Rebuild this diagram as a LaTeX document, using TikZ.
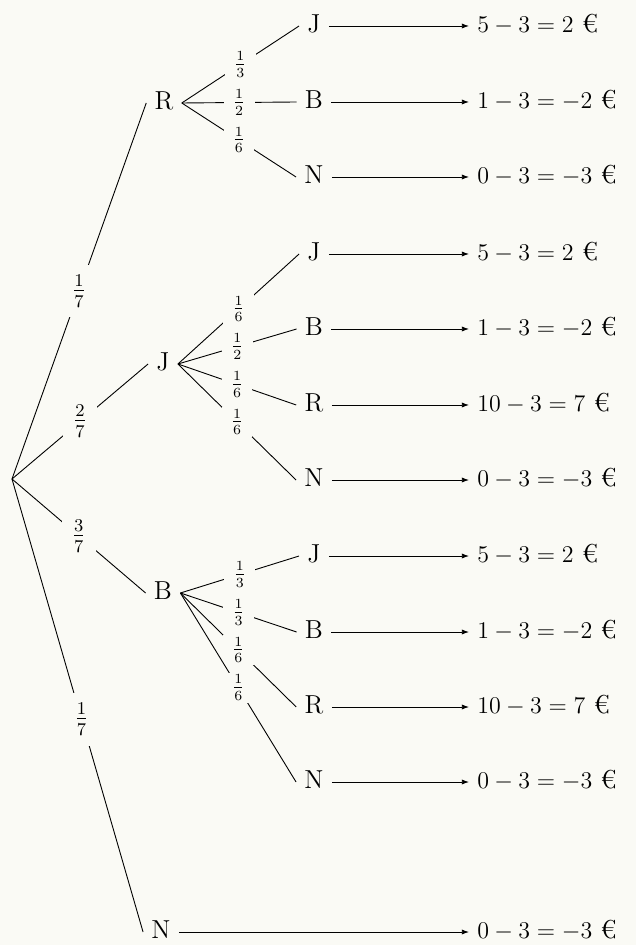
\documentclass[tikz,border=0pt]{standalone}
\usetikzlibrary{arrows.meta}
\definecolor{bg}{RGB}{250,250,245}
\begin{document}
\begin{tikzpicture}[x=0.5pt,y=-0.5pt,
  lt/.style={font=\fontsize{13}{16}\selectfont, text height=1.5ex, text depth=0pt, inner sep=4pt},
  res/.style={lt, anchor=west},
  labone/.style={fill=bg, font=\fontsize{13.5}{16}\selectfont, inner sep=5pt},
  labtwo/.style={fill=bg, font=\fontsize{10.5}{12.5}\selectfont, inner xsep=4.5pt, inner ysep=1.2pt},
  edge/.style={line width=0.45pt},
  arr/.style={line width=0.45pt, -{Latex[length=3.6pt,width=2.6pt]}}]
\fill[bg] (0,0) rectangle (636,945);
\useasboundingbox (0,0) rectangle (636,945);
\coordinate (O) at (12,479);
% level 1
\node[lt] (R1) at (164,103) {R};
\node[lt] (J1) at (163,364) {J};
\node[lt] (B1) at (163,593) {B};
\node[lt] (N1) at (161,932) {N};
% level 2
\node[lt] (RJ) at (314,26) {J};
\node[lt] (RB) at (314,102) {B};
\node[lt] (RN) at (314,177) {N};
\node[lt] (JJ) at (314,254) {J};
\node[lt] (JB) at (314,329) {B};
\node[lt] (JR) at (314,405) {R};
\node[lt] (JN) at (314,480) {N};
\node[lt] (BJ) at (314,556) {J};
\node[lt] (BB) at (314,632) {B};
\node[lt] (BR) at (314,707) {R};
\node[lt] (BN) at (314,782) {N};
% results
\node[res] (rRJ) at (469,26) {$5-3=2$ €};
\node[res] (rRB) at (469,102) {$1-3=-2$ €};
\node[res] (rRN) at (469,177) {$0-3=-3$ €};
\node[res] (rJJ) at (469,254) {$5-3=2$ €};
\node[res] (rJB) at (469,329) {$1-3=-2$ €};
\node[res] (rJR) at (469,405) {$10-3=7$ €};
\node[res] (rJN) at (469,480) {$0-3=-3$ €};
\node[res] (rBJ) at (469,556) {$5-3=2$ €};
\node[res] (rBB) at (469,632) {$1-3=-2$ €};
\node[res] (rBR) at (469,707) {$10-3=7$ €};
\node[res] (rBN) at (469,782) {$0-3=-3$ €};
\node[res] (rN) at (469,932) {$0-3=-3$ €};
% root edges
\draw[edge] (O) -- node[labone]{$\frac{1}{7}$} (R1.west);
\draw[edge] (O) -- node[labone]{$\frac{2}{7}$} (J1.west);
\draw[edge] (O) -- node[labone]{$\frac{3}{7}$} (B1.west);
\draw[edge] (O) -- node[labone,pos=0.53]{$\frac{1}{7}$} (N1.west);
% level 2 edges
\draw[edge] (R1.east) -- node[labtwo]{$\frac{1}{3}$} (RJ.west);
\draw[edge] (R1.east) -- node[labtwo]{$\frac{1}{2}$} (RB.west);
\draw[edge] (R1.east) -- node[labtwo]{$\frac{1}{6}$} (RN.west);
\draw[edge] (J1.east) -- node[labtwo]{$\frac{1}{6}$} (JJ.west);
\draw[edge] (J1.east) -- node[labtwo]{$\frac{1}{2}$} (JB.west);
\draw[edge] (J1.east) -- node[labtwo]{$\frac{1}{6}$} (JR.west);
\draw[edge] (J1.east) -- node[labtwo]{$\frac{1}{6}$} (JN.west);
\draw[edge] (B1.east) -- node[labtwo]{$\frac{1}{3}$} (BJ.west);
\draw[edge] (B1.east) -- node[labtwo]{$\frac{1}{3}$} (BB.west);
\draw[edge] (B1.east) -- node[labtwo]{$\frac{1}{6}$} (BR.west);
\draw[edge] (B1.east) -- node[labtwo]{$\frac{1}{6}$} (BN.west);
% arrows
\foreach \a in {RJ,RB,RN,JJ,JB,JR,JN,BJ,BB,BR,BN}
  \draw[arr] (\a.east) -- (r\a.west);
\draw[arr] (N1.east) -- (rN.west);
\end{tikzpicture}
\end{document}
